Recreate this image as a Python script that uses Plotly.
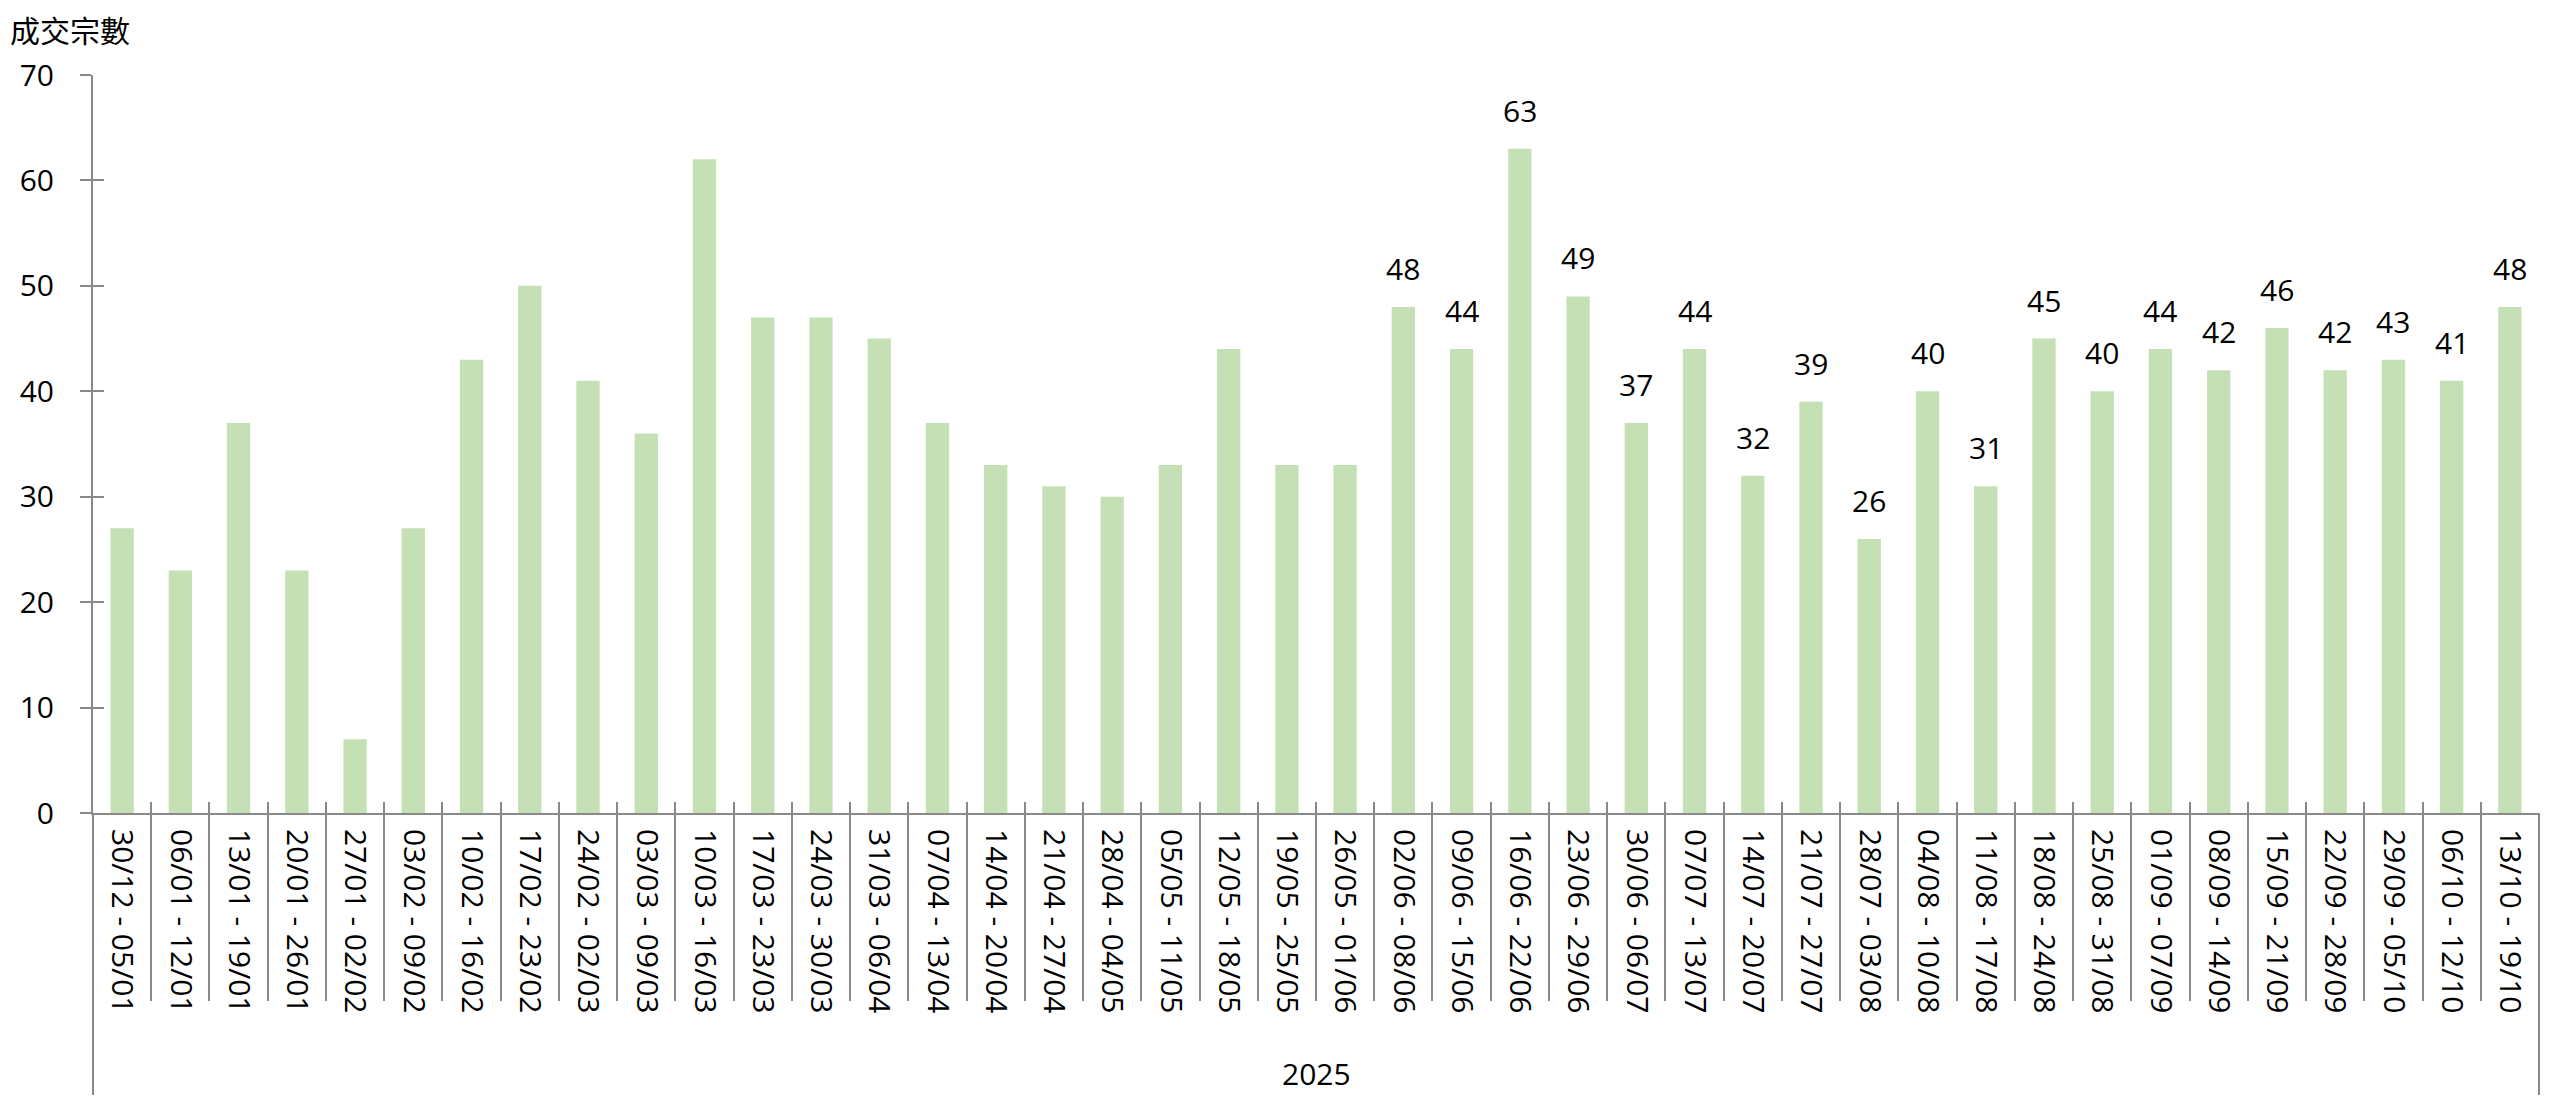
import plotly.graph_objects as go

categories = [
    "30/12 - 05/01", "06/01 - 12/01", "13/01 - 19/01", "20/01 - 26/01", "27/01 - 02/02",
    "03/02 - 09/02", "10/02 - 16/02", "17/02 - 23/02", "24/02 - 02/03", "03/03 - 09/03",
    "10/03 - 16/03", "17/03 - 23/03", "24/03 - 30/03", "31/03 - 06/04", "07/04 - 13/04",
    "14/04 - 20/04", "21/04 - 27/04", "28/04 - 04/05", "05/05 - 11/05", "12/05 - 18/05",
    "19/05 - 25/05", "26/05 - 01/06", "02/06 - 08/06", "09/06 - 15/06", "16/06 - 22/06",
    "23/06 - 29/06", "30/06 - 06/07", "07/07 - 13/07", "14/07 - 20/07", "21/07 - 27/07",
    "28/07 - 03/08", "04/08 - 10/08", "11/08 - 17/08", "18/08 - 24/08", "25/08 - 31/08",
    "01/09 - 07/09", "08/09 - 14/09", "15/09 - 21/09", "22/09 - 28/09", "29/09 - 05/10",
    "06/10 - 12/10", "13/10 - 19/10",
]
values = [
    27, 23, 37, 23, 7, 27, 43, 50, 41, 36,
    62, 47, 47, 45, 37, 33, 31, 30, 33, 44,
    33, 33, 48, 44, 63, 49, 37, 44, 32, 39,
    26, 40, 31, 45, 40, 44, 42, 46, 42, 43,
    41, 48,
]
# data labels are shown from this week onward
label_start = "02/06 - 08/06"
year_label = "2025"
y_title = "成交宗數"
y_ticks = [0, 10, 20, 30, 40, 50, 60, 70]

BAR = "#C5E0B4"
AXIS = "#898989"
FONT = "Open Sans, Noto Sans CJK TC, sans-serif"
FS = 30

W, H = 2560, 1116
ML, MR, MT, MB = 93, 21, 75, 303
plot_h = H - MT - MB

fig = go.Figure()
fig.add_trace(go.Bar(
    x=categories, y=values, marker=dict(color=BAR, line=dict(width=0)),
    hoverinfo="x+y", showlegend=False,
))

start = categories.index(label_start)
for c, v in zip(categories[start:], values[start:]):
    fig.add_annotation(
        x=c, y=v, xref="x", yref="y", text=str(v), showarrow=False,
        yanchor="bottom", yshift=16, font=dict(family=FONT, size=FS, color="black"),
    )

common_x = dict(type="category", categoryorder="array", categoryarray=categories,
                range=[-0.5, len(categories) - 0.5])

fig.update_layout(
    width=W, height=H,
    margin=dict(l=ML, r=MR, t=MT, b=MB),
    paper_bgcolor="white", plot_bgcolor="white",
    bargap=0.6,
    font=dict(family=FONT, size=FS, color="black"),
    xaxis=dict(
        **common_x, showline=True, linecolor=AXIS, linewidth=2,
        ticks="", tickangle=90, showgrid=False, zeroline=False,
        tickfont=dict(family=FONT, size=FS, color="black"),
        ticklabelstandoff=8,
    ),
    xaxis2=dict(
        **common_x, overlaying="x", matches="x", showline=False,
        ticks="outside", tickson="boundaries", ticklen=187, tickwidth=2, tickcolor=AXIS,
        showticklabels=False, showgrid=False, zeroline=False,
    ),
    xaxis3=dict(
        **common_x, overlaying="x", matches="x", showline=False,
        ticks="inside", tickson="boundaries", ticklen=11, tickwidth=2, tickcolor=AXIS,
        showticklabels=False, showgrid=False, zeroline=False,
    ),
    yaxis=dict(
        range=[0, 70], tickvals=y_ticks, showline=True, linecolor=AXIS, linewidth=2,
        ticks="outside", ticklen=11, tickwidth=2, tickcolor=AXIS,
        showgrid=False, zeroline=False, ticklabelstandoff=20,
        tickfont=dict(family=FONT, size=FS, color="black"),
    ),
    yaxis2=dict(
        range=[0, 70], tickvals=y_ticks, overlaying="y", side="left",
        ticks="inside", ticklen=11, tickwidth=2, tickcolor=AXIS,
        showticklabels=False, showgrid=False, zeroline=False, showline=False,
    ),
)

# invisible traces to activate the tick-only axes
fig.add_trace(go.Bar(x=categories, y=[None] * len(categories), xaxis="x2", yaxis="y",
                     showlegend=False, hoverinfo="skip"))
fig.add_trace(go.Bar(x=categories, y=[None] * len(categories), xaxis="x3", yaxis="y2",
                     showlegend=False, hoverinfo="skip"))

# multi-level category frame lines (left and right) extending below the axis
ext = -(1095 - (H - MB)) / plot_h
fig.add_shape(type="line", xref="paper", yref="paper", x0=0, x1=0, y0=0, y1=ext,
              line=dict(color=AXIS, width=2))
fig.add_shape(type="line", xref="paper", yref="paper", x0=1, x1=1, y0=0, y1=ext,
              line=dict(color=AXIS, width=2))

fig.add_annotation(
    xref="paper", yref="paper", x=0.5, y=-(1073 - (H - MB)) / plot_h,
    text=year_label, showarrow=False, yanchor="middle",
    font=dict(family=FONT, size=FS, color="black"),
)
fig.add_annotation(
    xref="paper", yref="paper", x=-(ML - 8) / (W - ML - MR), y=1 + (MT - 29) / plot_h,
    xanchor="left", yanchor="middle", text=y_title, showarrow=False,
    font=dict(family="Noto Sans CJK TC, Open Sans, sans-serif", size=30, color="black"),
)

fig.write_html(
    "out.html",
    config={"displayModeBar": False},
    post_script="document.body.style.margin='0';document.body.style.overflow='hidden';",
)
